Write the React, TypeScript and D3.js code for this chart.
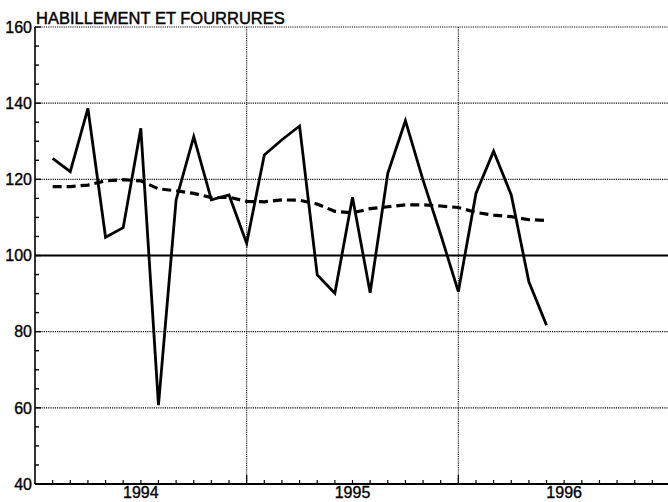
import React, { useEffect, useRef } from 'react';
import * as d3 from 'd3';

// monthly index: 0 = Jan 1994, 12 = Jan 1995, 24 = Jan 1996, 36 = Jan 1997
const months = [1, 2, 3, 4, 5, 6, 7, 8, 9, 10, 11, 12, 13, 14, 15, 16, 17, 18, 19, 20, 21, 22, 23, 24, 25, 26, 27, 28, 29];

const raw = [125.5, 122.0, 138.6, 104.8, 107.3, 133.4, 60.7, 114.6, 131.2, 114.6, 115.9,
  103.2, 126.4, 130.4, 134.0, 94.9, 90.1, 115.3, 90.2, 121.6, 135.4, 119.8, 105.5,
  90.5, 116.3, 127.4, 115.9, 93.1, 81.7];

const trend = [118.1, 118.1, 118.5, 119.6, 119.9, 119.6, 117.5, 117.0, 116.3, 115.2, 115.3,
  114.2, 114.1, 114.6, 114.5, 113.5, 111.6, 111.2, 112.3, 112.8, 113.3, 113.3, 113.0,
  112.6, 111.3, 110.6, 110.2, 109.4, 109.2];

const yearLabels = ['1994', '1995', '1996'];
const yTicks = [40, 60, 80, 100, 120, 140, 160];
const title = 'HABILLEMENT ET FOURRURES';

const W = 668, H = 502;
const font = '"Liberation Sans", Arial, sans-serif';

const draw = (node: SVGSVGElement) => {
  const svg = d3.select(node);
  svg.selectAll('*').remove();

  const x = d3.scaleLinear().domain([0, 36]).range([35, 670]);
  const y = d3.scaleLinear().domain([40, 160]).range([484, 27]);
  const left = x(0), right = W, top = y(160), bottom = y(40);

  // horizontal dotted grid
  svg.append('g')
    .selectAll('line')
    .data(yTicks.filter(d => d !== 40 && d !== 100))
    .enter()
    .append('line')
    .attr('x1', left).attr('x2', right)
    .attr('y1', d => y(d)).attr('y2', d => y(d))
    .attr('stroke', '#111').attr('stroke-width', 1.1)
    .attr('stroke-dasharray', '1.2,1');

  // vertical dotted grid at year boundaries
  svg.append('g')
    .selectAll('line')
    .data([12, 24])
    .enter()
    .append('line')
    .attr('x1', d => x(d)).attr('x2', d => x(d))
    .attr('y1', top).attr('y2', bottom)
    .attr('stroke', '#111').attr('stroke-width', 1.1)
    .attr('stroke-dasharray', '1.2,1');

  // reference line at 100
  svg.append('line')
    .attr('x1', left).attr('x2', right)
    .attr('y1', y(100)).attr('y2', y(100))
    .attr('stroke', '#000').attr('stroke-width', 2);

  // left axis
  svg.append('line')
    .attr('x1', left).attr('x2', left)
    .attr('y1', top).attr('y2', bottom)
    .attr('stroke', '#000').attr('stroke-width', 1.6);

  svg.append('g')
    .selectAll('line')
    .data(d3.range(40, 161, 5))
    .enter()
    .append('line')
    .attr('x1', left).attr('x2', d => left + (d % 20 === 0 ? 6 : 4))
    .attr('y1', d => y(d)).attr('y2', d => y(d))
    .attr('stroke', '#000').attr('stroke-width', 1.4);

  svg.append('g')
    .selectAll('text')
    .data(yTicks)
    .enter()
    .append('text')
    .attr('x', left - 3)
    .attr('y', d => y(d))
    .attr('dy', '0.36em')
    .attr('text-anchor', 'end')
    .attr('font-family', font)
    .attr('font-size', 16)
    .attr('stroke', '#000')
    .attr('stroke-width', 0.35)
    .text(d => d);

  // bottom axis
  svg.append('line')
    .attr('x1', left).attr('x2', right)
    .attr('y1', bottom).attr('y2', bottom)
    .attr('stroke', '#000').attr('stroke-width', 2);

  svg.append('g')
    .selectAll('line')
    .data(d3.range(1, 37))
    .enter()
    .append('line')
    .attr('x1', d => x(d)).attr('x2', d => x(d))
    .attr('y1', bottom).attr('y2', d => bottom - (d % 12 === 0 ? 9 : 4))
    .attr('stroke', '#000').attr('stroke-width', 1.2);

  svg.append('g')
    .selectAll('text')
    .data(yearLabels)
    .enter()
    .append('text')
    .attr('x', (d, i) => x(i * 12 + 6))
    .attr('y', 498)
    .attr('text-anchor', 'middle')
    .attr('font-family', font)
    .attr('font-size', 16)
    .attr('stroke', '#000')
    .attr('stroke-width', 0.35)
    .text(d => d);

  // series
  const line = d3.line<number>()
    .x((d, i) => x(months[i]))
    .y(d => y(d));

  svg.append('path')
    .datum(trend)
    .attr('d', line)
    .attr('fill', 'none')
    .attr('stroke', '#000')
    .attr('stroke-width', 3.2)
    .attr('stroke-dasharray', '9,5');

  svg.append('path')
    .datum(raw)
    .attr('d', line)
    .attr('fill', 'none')
    .attr('stroke', '#000')
    .attr('stroke-width', 2.8)
    .attr('stroke-linejoin', 'miter');

  // title
  svg.append('text')
    .attr('x', left + 1)
    .attr('y', 24)
    .attr('font-family', font)
    .attr('font-size', 16.5)
    .attr('stroke', '#000')
    .attr('stroke-width', 0.45)
    .text(title);
};

const App = () => {
  const ref = useRef<SVGSVGElement>(null);
  useEffect(() => {
    if (ref.current) draw(ref.current);
  }, []);
  return (
    <svg ref={ref} width={W} height={H}
      style={{ position: 'absolute', left: 0, top: 0, background: '#fff' }} />
  );
};

export default App;
